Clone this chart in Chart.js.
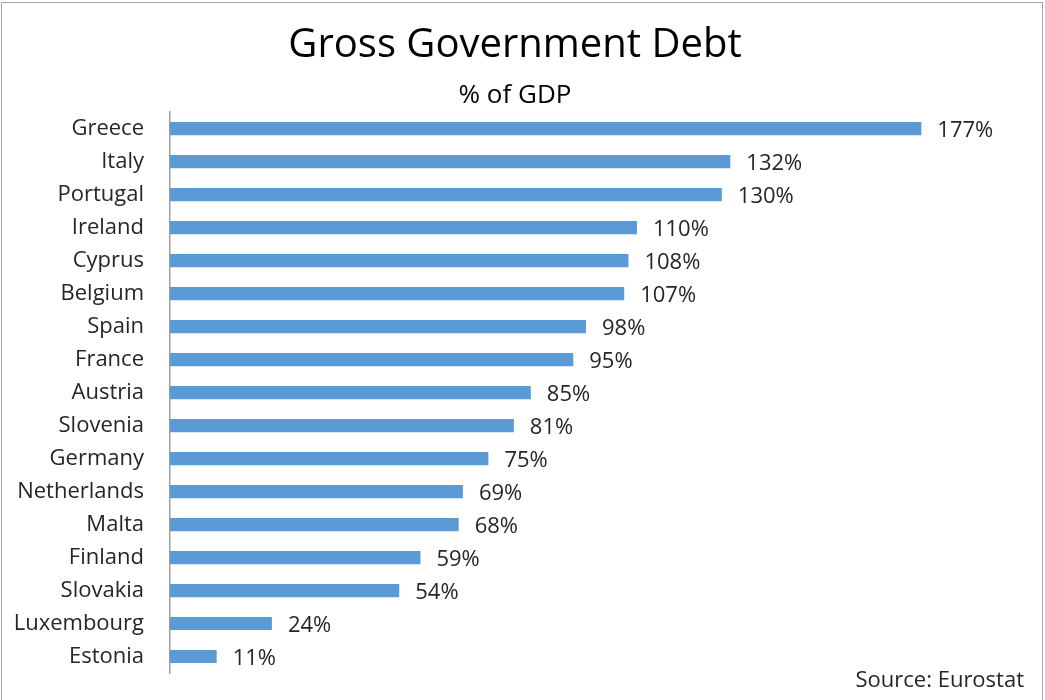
<!DOCTYPE html>
<html>
<head>
<meta charset="utf-8">
<script src="https://cdn.jsdelivr.net/npm/chart.js@4"></script>
<style>
  body { margin: 0; background: #fff; }
  #wrap { width: 1045px; height: 700px; position: relative; }
</style>
</head>
<body>
<div id="wrap"><canvas id="chart" width="1045" height="700"></canvas></div>
<script>
const countries = ["Greece", "Italy", "Portugal", "Ireland", "Cyprus", "Belgium", "Spain", "France",
  "Austria", "Slovenia", "Germany", "Netherlands", "Malta", "Finland", "Slovakia", "Luxembourg", "Estonia"];
const debtPct = [177, 132, 130, 110, 108, 107, 98, 95, 85, 81, 75, 69, 68, 59, 54, 24, 11];

const FONT = "'Open Sans', sans-serif";
const TEXT = "#262626";

// value labels at bar end + frame + source note
const extras = {
  id: 'extras',
  afterDatasetsDraw(chart) {
    const c = chart.ctx;
    const meta = chart.getDatasetMeta(0);
    c.save();
    c.font = "22px " + FONT;
    c.fillStyle = TEXT;
    c.textAlign = "left";
    c.textBaseline = "middle";
    meta.data.forEach((bar, i) => {
      c.fillText(debtPct[i] + "%", bar.x + 16, bar.y + 2);
    });
    c.textAlign = "right";
    c.fillText("Source: Eurostat", 1024, 681);
    c.strokeStyle = "#a6a6a6";
    c.lineWidth = 1;
    c.strokeRect(1.5, 2.5, 1041, 720);
    c.restore();
  }
};

new Chart(document.getElementById("chart").getContext("2d"), {
  type: 'bar',
  data: {
    labels: countries,
    datasets: [{
      data: debtPct,
      backgroundColor: '#5b9bd5',
      barPercentage: 0.4,
      categoryPercentage: 1
    }]
  },
  options: {
    indexAxis: 'y',
    responsive: false,
    animation: false,
    layout: { padding: { left: 11, right: 26, top: 0, bottom: 27 } },
    plugins: {
      legend: { display: false },
      tooltip: { enabled: false },
      title: {
        display: true,
        text: "Gross Government Debt",
        color: "#000",
        font: { family: FONT, size: 40, weight: 'normal' },
        padding: { top: 22, bottom: 0 }
      },
      subtitle: {
        display: true,
        text: "% of GDP",
        color: "#000",
        font: { family: FONT, size: 26, weight: 'normal' },
        padding: { top: 10, bottom: 1 }
      }
    },
    scales: {
      x: { display: false, min: 0, max: 200 },
      y: {
        grid: { display: false, drawTicks: true, tickLength: 26 },
        border: { display: true, color: '#a0a0a0', width: 1.5 },
        ticks: { color: TEXT, padding: 0, font: { family: FONT, size: 22 } },
        afterFit(scale) { scale.width = 159; }
      }
    }
  },
  plugins: [extras]
});
</script>
</body>
</html>
